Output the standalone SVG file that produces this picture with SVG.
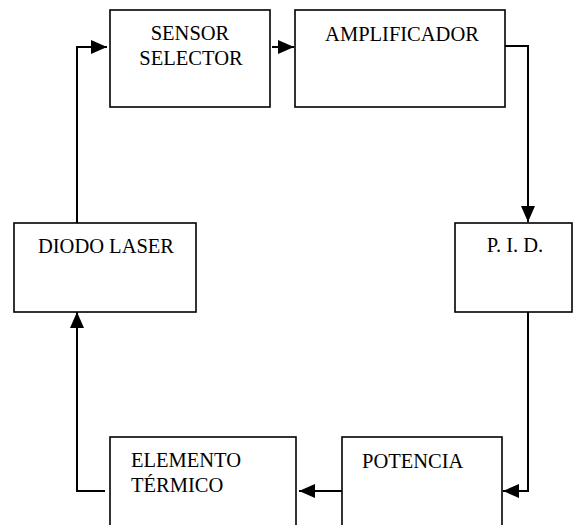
<svg xmlns="http://www.w3.org/2000/svg" width="575" height="525" viewBox="0 0 575 525">
<style>
.box{fill:#fff;stroke:#000;stroke-width:1.6}
.lbl{font-family:'Liberation Serif','Times New Roman',Times,serif;font-size:20.5px;fill:#000}
.c{text-anchor:middle}
.conn{fill:none;stroke:#000;stroke-width:2}
</style>
<defs>
<marker id="ah" markerUnits="userSpaceOnUse" markerWidth="17" markerHeight="15" refX="16" refY="7" orient="auto">
<path d="M0,0 L16,7 L0,14 Z" fill="#000"/>
</marker>
</defs>
<rect width="575" height="525" fill="#fff"/>
<g id="connectors">
<polyline class="conn" points="77,223 77,47 107,47" marker-end="url(#ah)"/>
<line class="conn" x1="272" y1="47" x2="294" y2="47" marker-end="url(#ah)"/>
<polyline class="conn" points="505,46 528,46 528,222" marker-end="url(#ah)"/>
<polyline class="conn" points="528,312 528,491 503,491" marker-end="url(#ah)"/>
<line class="conn" x1="342" y1="491" x2="299" y2="491" marker-end="url(#ah)"/>
<polyline class="conn" points="105,491 77,491 77,312" marker-end="url(#ah)"/>
</g>
<g id="sensor-selector">
<rect class="box" x="110" y="10" width="160" height="97"/>
<text class="lbl c" x="190" y="40" font-family="Liberation Serif, serif">SENSOR</text>
<text class="lbl c" x="191" y="65" font-family="Liberation Serif, serif">SELECTOR</text>
</g>
<g id="amplificador">
<rect class="box" x="295" y="10" width="210" height="97"/>
<text class="lbl c" x="402" y="41" font-family="Liberation Serif, serif">AMPLIFICADOR</text>
</g>
<g id="pid">
<rect class="box" x="455" y="223" width="117" height="89"/>
<text class="lbl c" x="515" y="252" font-family="Liberation Serif, serif">P. I. D.</text>
</g>
<g id="potencia">
<rect class="box" x="342" y="437" width="160" height="100"/>
<text class="lbl" x="362" y="468" font-family="Liberation Serif, serif">POTENCIA</text>
</g>
<g id="elemento-termico">
<rect class="box" x="110" y="437" width="186" height="100"/>
<text class="lbl" x="131" y="467" font-family="Liberation Serif, serif">ELEMENTO</text>
<text class="lbl" x="131" y="492" font-family="Liberation Serif, serif">TÉRMICO</text>
</g>
<g id="diodo-laser">
<rect class="box" x="14" y="223" width="182" height="89"/>
<text class="lbl c" x="106" y="253" font-family="Liberation Serif, serif">DIODO LASER</text>
</g>
</svg>
